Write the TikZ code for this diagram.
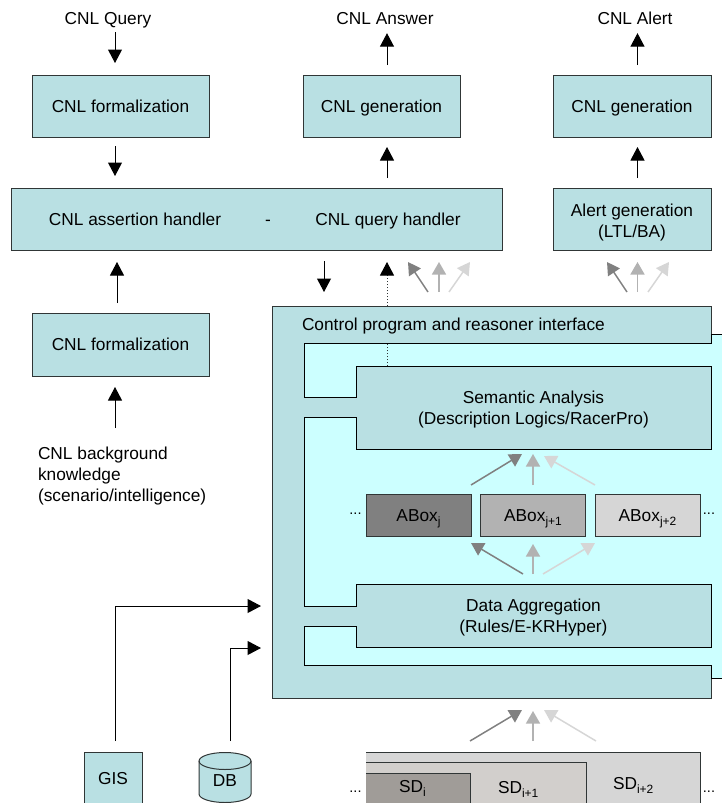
\documentclass[tikz,border=0pt]{standalone}
\usepackage{fontspec}
\setmainfont{Liberation Sans}
\usetikzlibrary{arrows.meta}
\definecolor{teal1}{HTML}{B9E0E3}
\definecolor{cyan1}{HTML}{CCFFFF}
\definecolor{gA}{HTML}{808080}
\definecolor{gB}{HTML}{B2B2B2}
\definecolor{gC}{HTML}{D6D6D6}
\definecolor{sdA}{HTML}{A09C98}
\definecolor{sdB}{HTML}{D2CFCC}
\definecolor{edge}{HTML}{303636}
\newcommand{\sbs}[1]{\raisebox{-4.5pt}{\fontsize{12}{12}\selectfont #1}}
\tikzset{
  every node/.style={font=\fontsize{17.3}{21}\selectfont,inner sep=0pt,outer sep=0pt},
  tealbox/.style={draw=edge,fill=teal1,line width=1pt,align=center},
  oneline/.style={text height=14pt,text depth=2pt},
  plainbox/.style={align=center},
  graybox/.style={draw=edge,line width=1pt,minimum width=105pt,minimum height=42pt,oneline},
  arr/.style={draw=black,line width=1pt,-{Triangle[length=13.5pt,width=14pt]}},
  garr/.style={line width=1.5pt,-{Triangle[length=12.5pt,width=14pt]}},
  lab/.style={anchor=base},
}
\begin{document}
\begin{tikzpicture}[x=1pt,y=-1pt]
\useasboundingbox (0,0) rectangle (722,803);
% column guides for the connectors
\coordinate (cA) at (115,0);
\coordinate (cB) at (117,0);
\coordinate (cC) at (387,0);
\coordinate (cD) at (637.5,0);
\coordinate (cE) at (324,0);
\coordinate (cF) at (230,0);
\coordinate (rG) at (0,606);
\coordinate (rD) at (0,648);
\coordinate (rH) at (0,343);
% top row
\node[lab] (query) at (108,24) {CNL Query};
\node[lab] (answer) at (385,24) {CNL Answer};
\node[lab] (alert) at (635,24) {CNL Alert};
\node[tealbox,oneline,minimum width=177pt,minimum height=62pt] (f1) at (120.5,106) {CNL formalization};
\node[tealbox,oneline,minimum width=157pt,minimum height=62pt] (gen2) at (381.5,106) {CNL generation};
\node[tealbox,oneline,minimum width=158pt,minimum height=62pt] (gen3) at (632,106) {CNL generation};
\node[tealbox,minimum width=491pt,minimum height=62pt] (hand) at (256.5,219) {};
\node[lab] (ha) at (135,225) {CNL assertion handler};
\node[lab] (hd) at (268,225) {-};
\node[lab] (hq) at (388,225) {CNL query handler};
\node[tealbox,minimum width=158pt,minimum height=62pt] (alertgen) at (632,219) {\rule{0pt}{20pt}Alert generation\\(LTL/BA)};
\node[tealbox,oneline,minimum width=177pt,minimum height=63pt] (f2) at (120.5,344.5) {CNL formalization};
\node[anchor=north west,align=left] (bg) at (38,447) {CNL background\\knowledge\\(scenario/intelligence)};
% main block
\node[tealbox,minimum width=439pt,minimum height=392pt] (main) at (491.5,502) {};
\path[draw=black,fill=cyan1,line width=1pt,line join=miter]
  (304,343) -- (711,343) -- (711,334) -- (722.5,334) -- (722.5,678) -- (711,678) -- (711,665)
  -- (304,665) -- (304,626) -- (356,626) -- (356,647) -- (711,647) -- (711,584) -- (356,584)
  -- (356,606) -- (304,606) -- (304,417) -- (356,417) -- (356,449) -- (711,449) -- (711,366)
  -- (356,366) -- (356,397) -- (304,397) -- cycle;
\node[anchor=base west] (ctrl) at (302,330) {Control program and reasoner interface};
\node[plainbox,minimum width=355pt,minimum height=87pt] (sem) at (533.5,409.5) {Semantic Analysis\\(Description Logics/RacerPro)};
\node[plainbox,minimum width=355pt,minimum height=67pt] (agg) at (533.5,617.5) {Data Aggregation\\(Rules/E-KRHyper)};
% ABoxes
\node[graybox,fill=gA] (ab1) at (418.5,515) {ABox\sbs{j}};
\node[graybox,fill=gB] (ab2) at (533,515) {ABox\sbs{j+1}};
\node[graybox,fill=gC] (ab3) at (647.5,515) {ABox\sbs{j+2}};
\node[anchor=base,font=\fontsize{14.5}{16}\selectfont] (d1) at (355.5,514) {...};
\node[anchor=base,font=\fontsize{14.5}{16}\selectfont] (d2) at (709,514) {...};
% streams
\node[draw=edge,fill=gC,line width=1pt,minimum width=340pt,minimum height=60pt,anchor=north east] (sd3) at (700,752) {};
\node[draw=edge,fill=sdB,line width=1pt,minimum width=226pt,minimum height=60pt,anchor=north east] (sd2) at (586,762) {};
\node[draw=edge,fill=sdA,line width=1pt,minimum width=110pt,minimum height=60pt,anchor=north east] (sd1) at (470.5,773) {};
\fill[white] (350,745) rectangle (366,803);
\node[anchor=base west] (t1) at (399,792) {SD\sbs{i}};
\node[anchor=base west] (t2) at (498,793) {SD\sbs{i+1}};
\node[anchor=base west] (t3) at (613,789) {SD\sbs{i+2}};
\node[anchor=base,font=\fontsize{14.5}{16}\selectfont] (d3) at (355.5,792) {...};
\node[anchor=base,font=\fontsize{14.5}{16}\selectfont] (d4) at (709,792) {...};
% sources
\node[tealbox,minimum width=58pt,minimum height=53pt] (gis) at (113,778.5) {GIS};
\path[draw=edge,fill=teal1,line width=1pt] (199,761) -- (199,794) arc (180:0:26 and 8.5) -- (251,761) arc (0:-180:26 and 8.5) -- cycle;
\draw[draw=edge,line width=1pt] (199,761) arc (180:0:26 and 8.5);
\node[minimum width=52pt,minimum height=58pt] (db) at (225,781) {DB};
% black connectors
\draw[arr,shorten <=4.5pt,shorten >=12pt] (query.south -| cA) -- (cA |- f1.north);
\draw[arr,shorten <=9pt,shorten >=12pt] (cA |- f1.south) -- (cA |- hand.north);
\draw[arr,shorten <=10pt,shorten >=12pt] (cB |- f2.north) -- (cB |- hand.south);
\draw[arr,shorten <=19pt,shorten >=11pt] (cA |- bg.north) -- (cA |- f2.south);
\draw[arr,shorten <=10pt,shorten >=9pt] (cC |- gen2.north) -- (cC |- answer.south);
\draw[arr,shorten <=10pt,shorten >=10pt] (cC |- hand.north) -- (cC |- gen2.south);
\draw[arr,shorten <=10pt,shorten >=9pt] (cD |- gen3.north) -- (cD |- alert.south);
\draw[arr,shorten <=10pt,shorten >=10pt] (cD |- alertgen.north) -- (cD |- gen3.south);
\draw[arr,shorten <=11pt,shorten >=14pt] (cE |- hand.south) -- (cE |- main.north);
\draw[draw=edge,line width=1pt,dotted,-{Triangle[length=13.5pt,width=14pt,color=black,fill=black]},shorten >=12pt] (cC |- main.north) -- (cC |- hand.south);
\draw[draw=edge,line width=1pt,dotted] (cC |- sem.north) -- (cC |- rH);
\draw[arr,shorten <=11pt,shorten >=11pt] (cA |- gis.north) |- (main.west |- rG);
\draw[arr,shorten <=11pt,shorten >=11pt] (cF |- db.north) |- (main.west |- rD);
% fans of grey arrows
\coordinate (a1) at (428,292); \coordinate (b1) at (408,262);
\coordinate (a2) at (439,292); \coordinate (b2) at (439,262);
\coordinate (a3) at (449,292); \coordinate (b3) at (470,262);
\coordinate (a4) at (627,292); \coordinate (b4) at (607,262);
\coordinate (a5) at (637.5,292); \coordinate (b5) at (637.5,262);
\coordinate (a6) at (648,292); \coordinate (b6) at (669,262);
\draw[garr,gA] (a1) -- (b1);
\draw[garr,gB] (a2) -- (b2);
\draw[garr,gC] (a3) -- (b3);
\draw[garr,gA] (a4) -- (b4);
\draw[garr,gB] (a5) -- (b5);
\draw[garr,gC] (a6) -- (b6);
\coordinate (u1) at (522,454); \coordinate (u2) at (533,454); \coordinate (u3) at (544,456);
\draw[garr,gA] ([yshift=9pt]ab1.north east) -- (u1);
\draw[garr,gB] ([yshift=9pt]ab2.north) -- (u2);
\draw[garr,gC] ([yshift=9pt]ab3.north west) -- (u3);
\coordinate (l1) at (523,574); \coordinate (l2) at (533,574); \coordinate (l3) at (543,574);
\draw[garr,gA] (l1) -- ([yshift=-7pt]ab1.south east);
\draw[garr,gB] (l2) -- ([yshift=-8pt]ab2.south);
\draw[garr,gC] (l3) -- ([yshift=-7pt]ab3.south west);
\coordinate (v1) at (522,710); \coordinate (v2) at (533,711); \coordinate (v3) at (544,710);
\coordinate (w1) at (470,741); \coordinate (w2) at (533,741); \coordinate (w3) at (596,741);
\draw[garr,gA] (w1) -- (v1);
\draw[garr,gB] (w2) -- (v2);
\draw[garr,gC] (w3) -- (v3);
\end{tikzpicture}
\end{document}
